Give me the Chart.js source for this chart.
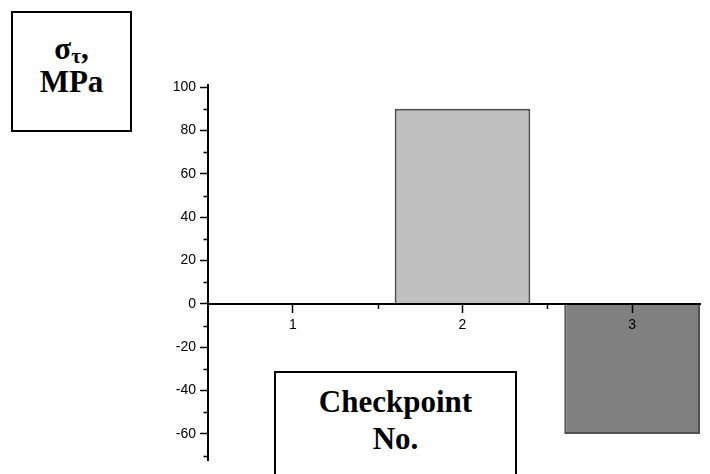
<!DOCTYPE html>
<html>
<head>
<meta charset="utf-8">
<script src="https://cdn.jsdelivr.net/npm/chart.js@4/dist/chart.umd.min.js"></script>
<style>
  body { margin: 0; background: #fff; overflow: hidden; }
  #wrap { position: relative; width: 710px; height: 474px; }
  .box {
    position: absolute;
    box-sizing: border-box;
    border: 2px solid #000;
    background: #fff;
    font-family: "Liberation Serif", "Times New Roman", serif;
    font-weight: bold;
    font-size: 31px;
    text-align: center;
    color: #000;
  }
  #yTitle { left: 11px; top: 11px; width: 121px; height: 121px; line-height: 33px; padding-top: 19px; }
  #xTitle { left: 274px; top: 371px; width: 243px; height: 120px; line-height: 37px; padding-top: 10px; }
  .sub { font-size: 21px; line-height: 0; position: relative; top: 4px; }
</style>
</head>
<body>
<div id="wrap">
  <canvas id="chart" width="710" height="474"></canvas>
  <div class="box" id="yTitle">σ<span class="sub">τ</span>,<br>MPa</div>
  <div class="box" id="xTitle">Checkpoint<br>No.</div>
</div>
<script>
// checkpoint numbers and stress values
const checkpoints = [1, 2, 3];
const stress = [0, 90, -60];
const barColors = ["#c0c0c0", "#c0c0c0", "#808080"];

// axis ticks
const xTicks = [1, 2, 3];
const xMinor = [1.5, 2.5];
const yTicks = [-60, -40, -20, 0, 20, 40, 60, 80, 100];
const yMinor = [-70, -50, -30, -10, 10, 30, 50, 70, 90];

// draws the short minor tick marks on both axes
const minorTicks = {
  id: "minorTicks",
  afterDraw(chart) {
    const { ctx, scales } = chart;
    const x = scales.x, y = scales.y;
    const axisX = x.left;
    const axisY = Math.round(y.getPixelForValue(0));
    ctx.save();
    ctx.strokeStyle = "#000";
    ctx.lineWidth = 1.5;
    ctx.beginPath();
    yMinor.forEach(v => {
      const py = Math.round(y.getPixelForValue(v)) + 0.5;
      ctx.moveTo(axisX - 4.5, py);
      ctx.lineTo(axisX, py);
    });
    xMinor.forEach(v => {
      const px = Math.round(x.getPixelForValue(v)) + 0.5;
      ctx.moveTo(px, axisY);
      ctx.lineTo(px, axisY + 5);
    });
    ctx.stroke();
    ctx.restore();
  }
};

const tickFont = { family: "'Liberation Sans', Arial, sans-serif", size: 14 };

new Chart(document.getElementById("chart"), {
  type: "bar",
  data: {
    datasets: [{
      data: checkpoints.map((c, i) => ({ x: c, y: stress[i] })),
      backgroundColor: barColors,
      borderColor: "#505050",
      borderWidth: 2,
      barPercentage: 0.8,
      categoryPercentage: 1.0
    }]
  },
  options: {
    responsive: false,
    animation: false,
    layout: { padding: { left: 0, right: 10, top: 85, bottom: 14 } },
    plugins: { legend: { display: false }, tooltip: { enabled: false } },
    scales: {
      x: {
        type: "linear",
        min: 0.5,
        max: 3.4,
        offset: false,
        position: { y: 0 },
        afterBuildTicks: s => { s.ticks = xTicks.map(v => ({ value: v })); },
        // axis, ticks and labels sit on top of the bars, like in the original
        grid: { z: 1, offset: false, drawOnChartArea: false, tickLength: 8, tickColor: "#000", tickWidth: 1.5 },
        border: { z: 1, display: true, color: "#000", width: 2 },
        ticks: { z: 1, color: "#000", font: tickFont, padding: 5, maxRotation: 0, autoSkip: false }
      },
      y: {
        min: -72,
        max: 101,
        afterBuildTicks: s => { s.ticks = yTicks.map(v => ({ value: v })); },
        afterFit: s => { s.width = 208; },
        grid: { z: 1, drawOnChartArea: false, tickLength: 8, tickColor: "#000", tickWidth: 1.5 },
        border: { z: 1, display: true, color: "#000", width: 2 },
        ticks: { z: 1, color: "#000", font: tickFont, padding: 4 }
      }
    }
  },
  plugins: [minorTicks]
});
</script>
</body>
</html>
